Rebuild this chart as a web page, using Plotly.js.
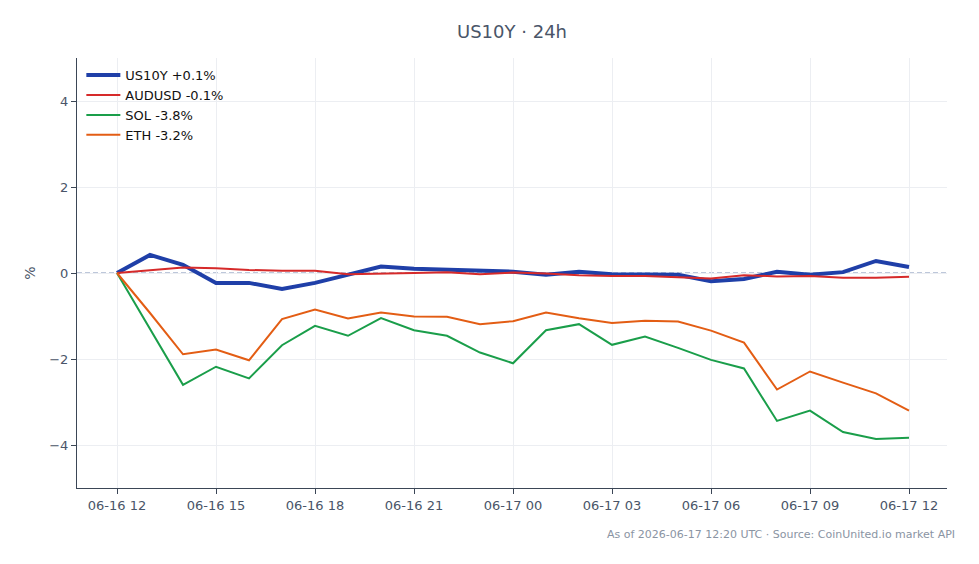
<!DOCTYPE html>
<html>
<head>
<meta charset="utf-8">
<script src="https://cdn.plot.ly/plotly-3.0.1.min.js"></script>
<style>
  html, body { margin: 0; padding: 0; background: #ffffff; }
  #chart { width: 979px; height: 564px; }
</style>
</head>
<body>
<div id="chart"></div>
<script>
// Hourly timestamps over the last 24 hours
const times = [
  '2026-06-16 12:00', '2026-06-16 13:00', '2026-06-16 14:00', '2026-06-16 15:00',
  '2026-06-16 16:00', '2026-06-16 17:00', '2026-06-16 18:00', '2026-06-16 19:00',
  '2026-06-16 20:00', '2026-06-16 21:00', '2026-06-16 22:00', '2026-06-16 23:00',
  '2026-06-17 00:00', '2026-06-17 01:00', '2026-06-17 02:00', '2026-06-17 03:00',
  '2026-06-17 04:00', '2026-06-17 05:00', '2026-06-17 06:00', '2026-06-17 07:00',
  '2026-06-17 08:00', '2026-06-17 09:00', '2026-06-17 10:00', '2026-06-17 11:00',
  '2026-06-17 12:00'
];

// Percent change from the start of the window
const us10y = [0, 0.42, 0.19, -0.23, -0.23, -0.37, -0.23, -0.05, 0.15, 0.10, 0.07, 0.05,
               0.03, -0.04, 0.03, -0.03, -0.03, -0.04, -0.19, -0.14, 0.03, -0.04, 0.02, 0.28, 0.14];
const audusd = [0, 0.06, 0.13, 0.11, 0.07, 0.05, 0.05, -0.03, -0.02, 0.00, 0.02, -0.03,
                0.01, -0.01, -0.05, -0.07, -0.07, -0.10, -0.13, -0.05, -0.08, -0.07, -0.11, -0.11, -0.09];
const sol = [0, -1.30, -2.60, -2.18, -2.45, -1.68, -1.23, -1.46, -1.05, -1.33, -1.46, -1.85,
             -2.10, -1.33, -1.19, -1.67, -1.48, -1.74, -2.02, -2.22, -3.44, -3.20, -3.70, -3.86, -3.83];
const eth = [0, -0.93, -1.89, -1.78, -2.03, -1.07, -0.85, -1.06, -0.92, -1.01, -1.02, -1.19,
             -1.12, -0.92, -1.05, -1.16, -1.11, -1.13, -1.34, -1.62, -2.71, -2.29, -2.55, -2.80, -3.20];

const seriesNames = ['US10Y +0.1%', 'AUDUSD -0.1%', 'SOL -3.8%', 'ETH -3.2%'];
const seriesColors = ['#1f3fa8', '#d62a2a', '#1a9e4a', '#e35d14'];
const seriesWidths = [4, 2, 2, 2];
const seriesValues = [us10y, audusd, sol, eth];

const traces = seriesValues.map((vals, i) => ({
  type: 'scatter',
  mode: 'lines',
  x: times,
  y: vals,
  name: seriesNames[i],
  line: { color: seriesColors[i], width: seriesWidths[i] },
  hoverinfo: 'skip'
}));

const textColor = '#4a5568';

const layout = {
  width: 979,
  height: 564,
  margin: { l: 77, r: 32, t: 58, b: 76 },
  paper_bgcolor: '#ffffff',
  plot_bgcolor: '#ffffff',
  font: { family: 'DejaVu Sans, sans-serif', size: 13, color: textColor },
  title: {
    text: 'US10Y · 24h',
    x: 0.523, xanchor: 'center',
    y: 0.943, yanchor: 'middle',
    font: { size: 18, color: textColor }
  },
  showlegend: true,
  legend: {
    x: 0.005, y: 0.995, xanchor: 'left', yanchor: 'top',
    bgcolor: 'rgba(255,255,255,0)',
    font: { size: 13, color: '#111111' },
    itemwidth: 34,
    tracegroupgap: 0
  },
  xaxis: {
    type: 'date',
    range: ['2026-06-16 10:47:16', '2026-06-17 13:09:05'],
    tickformat: '%m-%d %H',
    dtick: 3 * 3600 * 1000,
    tick0: '2026-06-16 12:00',
    showgrid: true,
    gridcolor: '#eceef2',
    showline: true,
    linecolor: '#3b4656',
    linewidth: 1,
    ticks: 'outside',
    ticklen: 5,
    tickcolor: '#3b4656',
    tickfont: { size: 13, color: textColor },
    zeroline: false
  },
  yaxis: {
    range: [-5, 5],
    tickvals: [-4, -2, 0, 2, 4],
    ticktext: ['\u22124', '\u22122', '0', '2', '4'],
    showgrid: true,
    gridcolor: '#eceef2',
    showline: true,
    linecolor: '#3b4656',
    linewidth: 1,
    ticks: 'outside',
    ticklen: 5,
    tickcolor: '#3b4656',
    tickfont: { size: 13, color: textColor },
    zeroline: false,
    title: { text: '%', font: { size: 14, color: textColor }, standoff: 10 }
  },
  shapes: [{
    type: 'line', xref: 'paper', yref: 'y',
    x0: 0, x1: 1, y0: 0, y1: 0,
    line: { color: '#7c90b5', width: 1.2, dash: '5px,3px' },
    layer: 'below'
  }],
  annotations: [{
    text: 'As of 2026-06-17 12:20 UTC · Source: CoinUnited.io market API',
    xref: 'paper', yref: 'paper',
    x: 1.012, y: -0.107, xanchor: 'right', yanchor: 'middle',
    showarrow: false,
    font: { size: 11, color: '#8a94a3' }
  }]
};

Plotly.newPlot('chart', traces, layout, { displayModeBar: false, staticPlot: true });
</script>
</body>
</html>
